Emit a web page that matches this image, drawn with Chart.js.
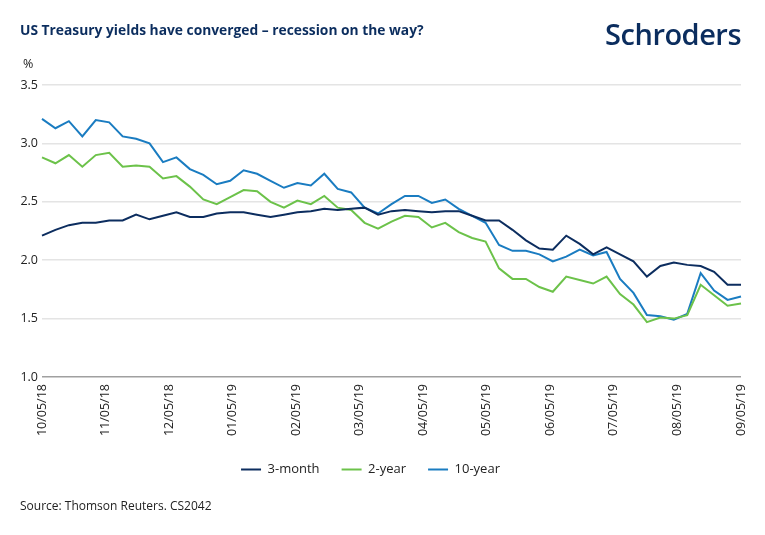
<!DOCTYPE html>
<html>
<head>
<meta charset="utf-8">
<script src="https://cdn.jsdelivr.net/npm/chart.js@4"></script>
<style>
  html, body { margin: 0; padding: 0; background: #fff; }
  #wrap { position: relative; width: 765px; height: 535px; font-family: "Open Sans", sans-serif; }
  #chart { position: absolute; left: 0; top: 0; }
  .title { position: absolute; left: 20px; top: 20px; font-size: 13.8px; font-weight: 700; color: #0b2d5e; }
  .logo { position: absolute; right: 24px; top: 14px; font-size: 29px; font-weight: 600; color: #0b2d5e; letter-spacing: -0.5px; }
  .unit { position: absolute; left: 23px; top: 55px; font-size: 12.5px; color: #222; }
  .source { position: absolute; left: 20px; top: 497px; font-size: 12px; color: #222; }
</style>
</head>
<body>
<div id="wrap">
  <canvas id="chart" width="765" height="535"></canvas>
  <div class="title">US Treasury yields have converged – recession on the way?</div>
  <div class="logo">Schroders</div>
  <div class="unit">%</div>
  <div class="source">Source: Thomson Reuters. CS2042</div>
</div>
<script>
// x-axis month labels (evenly spaced across the plot)
const monthLabels = ['10/05/18', '11/05/18', '12/05/18', '01/05/19', '02/05/19', '03/05/19',
                     '04/05/19', '05/05/19', '06/05/19', '07/05/19', '08/05/19', '09/05/19'];

const seriesNames = ['3-month', '2-year', '10-year'];
const seriesColors = ['#0c2d5f', '#6cc24a', '#1a7cc1'];

// weekly yields, %
const threeMonth = [2.21, 2.26, 2.30, 2.32, 2.32, 2.34, 2.34, 2.39, 2.35, 2.38,
                    2.41, 2.37, 2.37, 2.40, 2.41, 2.41, 2.39, 2.37, 2.39, 2.41,
                    2.42, 2.44, 2.43, 2.44, 2.45, 2.39, 2.42, 2.43, 2.42, 2.41,
                    2.42, 2.42, 2.38, 2.34, 2.34, 2.26, 2.17, 2.10, 2.09, 2.21,
                    2.14, 2.05, 2.11, 2.05, 1.99, 1.86, 1.95, 1.98, 1.96, 1.95,
                    1.90, 1.79, 1.79];
const twoYear   = [2.88, 2.83, 2.90, 2.80, 2.90, 2.92, 2.80, 2.81, 2.80, 2.70,
                   2.72, 2.63, 2.52, 2.48, 2.54, 2.60, 2.59, 2.50, 2.45, 2.51,
                   2.48, 2.55, 2.45, 2.43, 2.32, 2.27, 2.33, 2.38, 2.37, 2.28,
                   2.32, 2.24, 2.19, 2.16, 1.93, 1.84, 1.84, 1.77, 1.73, 1.86,
                   1.83, 1.80, 1.86, 1.71, 1.62, 1.47, 1.51, 1.50, 1.53, 1.79,
                   1.70, 1.61, 1.63];
const tenYear   = [3.21, 3.13, 3.19, 3.06, 3.20, 3.18, 3.06, 3.04, 3.00, 2.84,
                   2.88, 2.78, 2.73, 2.65, 2.68, 2.77, 2.74, 2.68, 2.62, 2.66,
                   2.64, 2.74, 2.61, 2.58, 2.45, 2.40, 2.48, 2.55, 2.55, 2.49,
                   2.52, 2.44, 2.38, 2.32, 2.13, 2.08, 2.08, 2.05, 1.99, 2.03,
                   2.09, 2.04, 2.07, 1.84, 1.72, 1.53, 1.52, 1.49, 1.54, 1.89,
                   1.74, 1.66, 1.69];

const yMin = 1.0, yMax = 3.5, yStep = 0.5;

const allSeries = [threeMonth, twoYear, tenYear];
const FONT = '"Open Sans", sans-serif';

new Chart(document.getElementById('chart'), {
    type: 'line',
    data: {
        labels: threeMonth.map((_, i) => i),
        datasets: allSeries.map((vals, k) => ({
            label: seriesNames[k],
            data: vals,
            borderColor: seriesColors[k],
            backgroundColor: seriesColors[k],
            borderWidth: 2,
            pointRadius: 0,
            tension: 0,
            xAxisID: 'x',
            yAxisID: 'y'
        }))
    },
    options: {
        responsive: false,
        animation: false,
        devicePixelRatio: 1,
        layout: { padding: { top: 85, left: 0, right: 24, bottom: 49 } },
        scales: {
            x: {
                type: 'category',
                display: false,
                offset: false
            },
            xm: {
                type: 'linear',
                position: 'bottom',
                min: 0,
                max: monthLabels.length - 1,
                afterFit: (s) => { s.height = 64; },
                grid: { display: false, drawTicks: false },
                border: { display: false },
                ticks: {
                    stepSize: 1,
                    autoSkip: false,
                    maxRotation: 90,
                    minRotation: 90,
                    padding: 7,
                    color: '#222',
                    font: { family: FONT, size: 12.5 },
                    callback: (v) => monthLabels[v]
                }
            },
            y: {
                min: yMin,
                max: yMax,
                afterFit: (s) => { s.width = 42; },
                border: { display: false },
                grid: {
                    drawTicks: false,
                    lineWidth: 1.5,
                    color: (c) => c.tick && c.tick.value === yMin ? '#a0a0a0' : '#e4e4e4'
                },
                ticks: {
                    stepSize: yStep,
                    padding: 4,
                    color: '#222',
                    font: { family: FONT, size: 12.5 },
                    callback: (v) => v.toFixed(1)
                }
            }
        },
        plugins: {
            tooltip: { enabled: false },
            legend: {
                position: 'bottom',
                labels: {
                    boxWidth: 20,
                    boxHeight: 2,
                    padding: 22,
                    color: '#222',
                    font: { family: FONT, size: 13 },
                    generateLabels: (chart) =>
                        Chart.defaults.plugins.legend.labels.generateLabels(chart)
                            .map(l => ({ ...l, lineWidth: 0 }))
                }
            }
        }
    }
});
</script>
</body>
</html>
